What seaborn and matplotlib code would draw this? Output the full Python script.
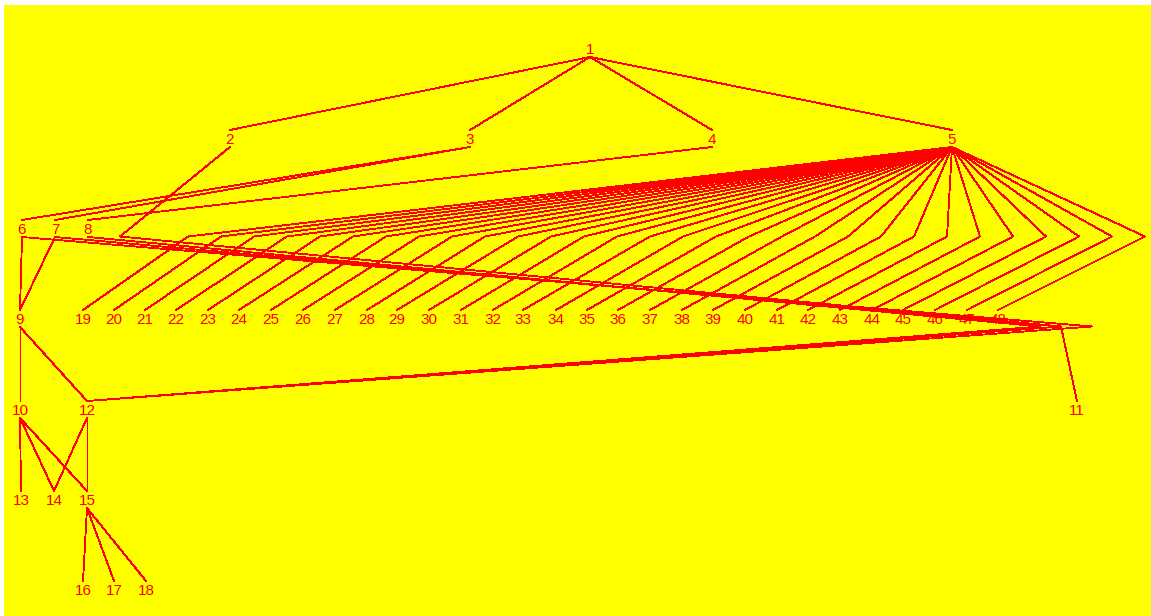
import matplotlib
matplotlib.use("Agg")
import matplotlib.pyplot as plt
import seaborn as sns
import pandas as pd

# vertical position (pixel row) of each layer's labels
layer_y = [50, 140, 230, 320, 411, 501, 591]

# nodes: id, layer, horizontal position
node_ids = list(range(1, 19))
node_layer = [0, 1, 1, 1, 1, 2, 2, 2, 3, 4, 4, 4, 5, 5, 5, 6, 6, 6]
node_x = [590, 230, 470, 712, 952, 22, 55, 88, 20, 20, 1077, 87, 21, 54, 87, 83, 114, 146]

# the 30 children of node 5 (layer 3)
fan_ids = list(range(19, 49))
fan_x = [83, 114, 145, 176, 208, 239, 271, 303, 335, 367, 397, 429, 461, 493, 523,
         556, 587, 618, 650, 682, 713, 745, 777, 808, 840, 872, 903, 935, 967, 998]
# bend points of the 5 -> child edges (layer 2)
fan_bend_x = [188, 221, 254, 287, 320, 353, 386, 419, 452, 485, 518, 551, 584, 617, 650,
              683, 716, 749, 782, 815, 848, 881, 914, 947, 980, 1013, 1046, 1079, 1112, 1145]

# plain edges
edge_src = [1, 1, 1, 1, 3, 3, 4, 6, 7, 9, 9, 10, 10, 10, 12, 12, 15, 15, 15]
edge_dst = [2, 3, 4, 5, 6, 7, 8, 9, 9, 10, 12, 13, 14, 15, 14, 15, 16, 17, 18]

# long edges routed through dummy bends: (layer, x)
long_src = [2, 6, 7, 8]
long_dst = [11, 12, 12, 12]
long_bends = [[(2, 120), (3, 1061)], [(3, 1092)], [(3, 1061)], [(3, 1040)]]

sns.set_theme(style="white")
plt.rcParams['font.family'] = ['Liberation Sans', 'DejaVu Sans']

pos = {}
for n, l, x in zip(node_ids, node_layer, node_x):
    pos[n] = (x, l)
for n, x in zip(fan_ids, fan_x):
    pos[n] = (x, 3)

TOP, BOT, BEND = -10, 7, 6.5

rows = []
def add_path(eid, pts):
    for i, (x, y) in enumerate(pts):
        rows.append({'edge': eid, 'order': i, 'x': x, 'y': y})

def node_out(n):
    x, l = pos[n]
    return (x, layer_y[l] + BOT)

def node_in(n):
    x, l = pos[n]
    return (x, layer_y[l] + TOP)

eid = 0
for s, d in zip(edge_src, edge_dst):
    add_path(eid, [node_out(s), node_in(d)])
    eid += 1
for n, bx in zip(fan_ids, fan_bend_x):
    add_path(eid, [node_out(5), (bx, layer_y[2] + BEND), node_in(n)])
    eid += 1
for s, d, bends in zip(long_src, long_dst, long_bends):
    pts = [node_out(s)] + [(bx, layer_y[l] + BEND) for l, bx in bends] + [node_in(d)]
    add_path(eid, pts)
    eid += 1

edges_df = pd.DataFrame(rows)

fig = plt.figure(figsize=(11.51, 6.16), dpi=100, facecolor='white')
ax = fig.add_axes([4 / 1151, 0, 1147 / 1151, 611 / 616])
ax.set_facecolor('#FFFF00')

sns.lineplot(data=edges_df, x='x', y='y', units='edge', estimator=None, sort=False,
             color='#FF0000', linewidth=0.6, antialiased=False, ax=ax, legend=False)

for n, (x, l) in pos.items():
    ax.text(x, layer_y[l], str(n), color='#FF0000', fontsize=11,
            ha='center', va='center')

ax.set_xlim(4, 1151)
ax.set_ylim(616, 5)
ax.set_xticks([])
ax.set_yticks([])
ax.set_xlabel('')
ax.set_ylabel('')
for sp in ax.spines.values():
    sp.set_visible(False)

fig.savefig('out.png', dpi=100, facecolor='white')
